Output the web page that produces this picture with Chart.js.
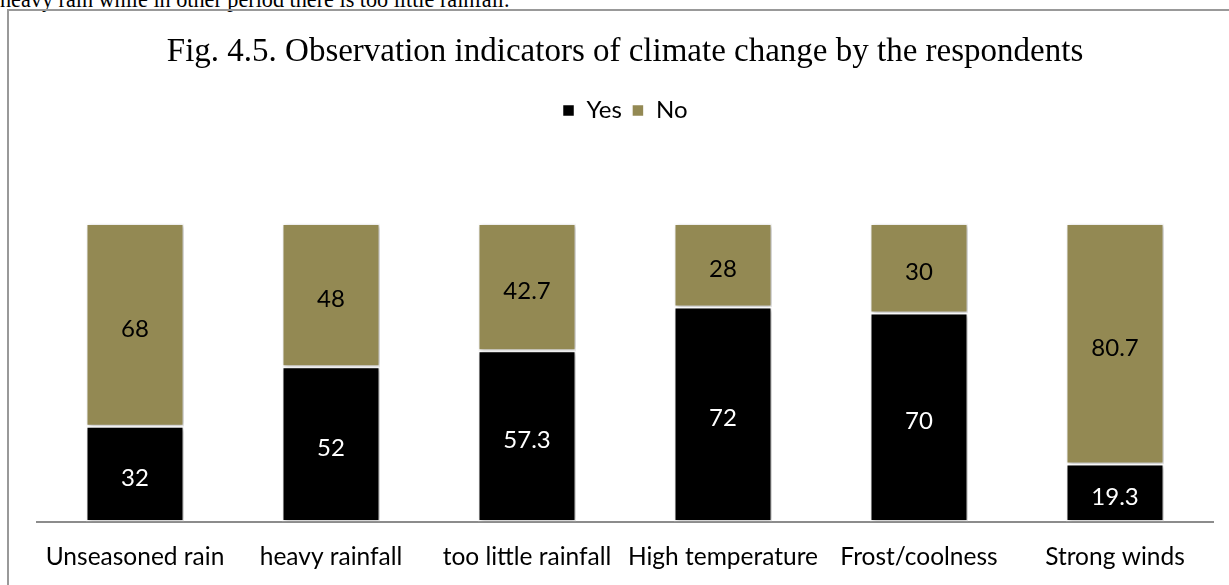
<!DOCTYPE html>
<html>
<head>
<meta charset="utf-8">
<script src="https://cdn.jsdelivr.net/npm/chart.js@4.4.0/dist/chart.umd.min.js"></script>
<style>
  html, body { margin: 0; padding: 0; width: 1229px; height: 585px; overflow: hidden; background: #fff; }
  #lead {
    position: absolute; left: 0; top: -14px; margin: 0;
    font-family: "Liberation Serif", "Times New Roman", serif; font-size: 22.2px;
    line-height: 28px; color: #000; white-space: nowrap;
  }
  #frame {
    position: absolute; left: 7px; top: 9px; width: 1240px; height: 600px;
    border: 2px solid #999; box-sizing: border-box;
  }
  #wrap { position: absolute; left: 0; top: 0; width: 1229px; height: 585px; }
</style>
</head>
<body>
<p id="lead">heavy rain while in other period there is too little rainfall.</p>
<div id="frame"></div>
<div id="wrap"><canvas id="chart"></canvas></div>
<script>
// Share of respondents (%) who observed each climate-change indicator
const categories = ['Unseasoned rain', 'heavy rainfall', 'too little rainfall', 'High temperature', 'Frost/coolness', 'Strong winds'];
const yesValues = [32, 52, 57.3, 72, 70, 19.3];
const noValues = [68, 48, 42.7, 28, 30, 80.7];

const LABEL_FONT = '"Lato", "Open Sans", sans-serif';

// Soft drop shadow under the bar segments
const barShadow = {
  id: 'barShadow',
  beforeDatasetDraw(chart) {
    const ctx = chart.ctx;
    ctx.save();
    ctx.shadowColor = 'rgba(0,0,0,0.28)';
    ctx.shadowBlur = 4;
    ctx.shadowOffsetX = 1;
    ctx.shadowOffsetY = 1;
  },
  afterDatasetDraw(chart) {
    chart.ctx.restore();
  }
};

// Value written in the middle of every stacked segment
const segmentValues = {
  id: 'segmentValues',
  afterDatasetsDraw(chart) {
    const ctx = chart.ctx;
    ctx.save();
    ctx.font = '24px ' + LABEL_FONT;
    ctx.textAlign = 'center';
    ctx.textBaseline = 'middle';
    chart.data.datasets.forEach((ds, di) => {
      const meta = chart.getDatasetMeta(di);
      meta.data.forEach((bar, i) => {
        const mid = (bar.y + bar.base) / 2 + 4;
        ctx.fillStyle = ds.labelColor;
        ctx.fillText(String(ds.data[i]), bar.x, mid);
      });
    });
    ctx.restore();
  }
};

// Extra room between the legend and the plot area
const legendGap = {
  id: 'legendGap',
  beforeInit(chart) {
    const fit = chart.legend.fit;
    chart.legend.fit = function () {
      fit.bind(chart.legend)();
      this.height += 91;
    };
  }
};

new Chart(document.getElementById('chart'), {
  type: 'bar',
  data: {
    labels: categories,
    datasets: [
      { label: 'Yes', data: yesValues, backgroundColor: '#000000', borderColor: '#ffffff', borderWidth: 1.5, borderSkipped: false, labelColor: '#ffffff' },
      { label: 'No', data: noValues, backgroundColor: '#938953', borderColor: '#ffffff', borderWidth: 1.5, borderSkipped: false, labelColor: '#000000' }
    ]
  },
  options: {
    responsive: true,
    maintainAspectRatio: false,
    animation: false,
    layout: { padding: { left: 37, right: 16, top: 0, bottom: -8 } },
    datasets: { bar: { categoryPercentage: 1.0, barPercentage: 0.5 } },
    plugins: {
      title: {
        display: true,
        text: 'Fig. 4.5. Observation indicators of climate change by the respondents',
        color: '#000',
        font: { family: '"Liberation Serif", "Times New Roman", serif', size: 33, weight: 'normal' },
        padding: { top: 33, bottom: 16 }
      },
      legend: {
        display: true,
        position: 'top',
        labels: {
          color: '#000',
          font: { family: LABEL_FONT, size: 24 },
          boxWidth: 12,
          boxHeight: 12,
          padding: 10
        }
      },
      tooltip: { enabled: false }
    },
    scales: {
      x: {
        stacked: true,
        grid: { display: false, drawTicks: false },
        border: { display: true, color: '#8c8c8c', width: 2 },
        ticks: { color: '#000', font: { family: LABEL_FONT, size: 24.5 }, padding: 21, maxRotation: 0, autoSkip: false }
      },
      y: {
        stacked: true,
        display: false,
        min: 0,
        max: 100
      }
    }
  },
  plugins: [barShadow, segmentValues, legendGap]
});
</script>
</body>
</html>
